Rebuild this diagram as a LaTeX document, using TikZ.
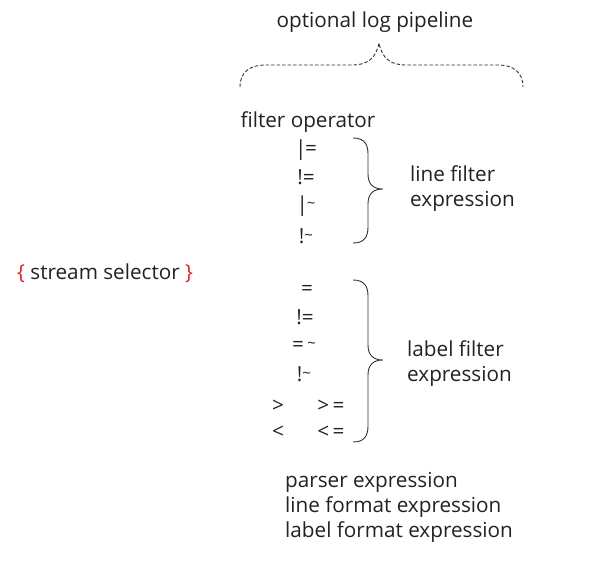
\documentclass[tikz,border=0pt]{standalone}
\usepackage{fontspec}
\setmainfont{Open Sans}
\definecolor{txt}{HTML}{222222}
\definecolor{brc}{HTML}{333333}
\definecolor{redb}{HTML}{E0262A}
\newcommand{\tld}{\raisebox{3pt}{\fontsize{15}{18}\selectfont\textasciitilde}}
\begin{document}
\begin{tikzpicture}[x=1pt,y=-1pt,
  lbl/.style={inner sep=0pt, text=txt, font=\fontsize{20.7}{25}\selectfont},
  brace/.style={draw=brc, line width=0.9pt},
  dbrace/.style={draw=brc, line width=0.9pt, dash pattern=on 3.5pt off 2pt}]
\useasboundingbox (0,0) rectangle (591,560);
% top
\node[lbl] (opt) at (375,22) {optional log pipeline};
\path[dbrace] (240,87) .. controls (240,72) and (250,65) .. (265,65) -- (352,65)
  .. controls (368,65) and (376,58) .. (379,43)
  .. controls (382,58) and (390,65) .. (406,65) -- (498,65)
  .. controls (513,65) and (523,72) .. (523,87);
% filter operator
\node[lbl] (fop) at (308,122) {filter operator};
\node[lbl] (o1) at (306,150) {|\kern-1.5pt=};
\node[lbl] (o2) at (306,177) {!=};
\node[lbl] (o3) at (306,206) {|\kern-1pt\tld};
\node[lbl] (o4) at (306,236) {!\tld};
\path[brace] (353,138) .. controls (364,138) and (368,144) .. (368,154) -- (368,174)
  .. controls (368,184) and (373,189) .. (383,189)
  .. controls (373,189) and (368,194) .. (368,204) -- (368,227)
  .. controls (368,237) and (364,243) .. (353,243);
\node[lbl, align=left, anchor=west] (lfe) at (410,189) {line filter\\expression};
% stream selector
\node[lbl, anchor=west] (ss) at (17,273) {\textcolor{redb}{\{} stream selector \textcolor{redb}{\}}};
% label filter ops
\node[lbl] (l1) at (307,290) {=};
\node[lbl] (l2) at (305,317) {!=};
\node[lbl] (l3) at (304,346) {=\,\tld};
\node[lbl] (l4) at (304,374) {!\tld};
\node[lbl] (l5) at (278,406) {>};
\node[lbl] (l6) at (331,406) {>\,=};
\node[lbl] (l7) at (278,432) {<};
\node[lbl] (l8) at (331,432) {<\,=};
\path[brace] (353,280) .. controls (364,280) and (368,286) .. (368,296) -- (368,345)
  .. controls (368,355) and (373,360) .. (383,360)
  .. controls (373,360) and (368,365) .. (368,375) -- (368,426)
  .. controls (368,436) and (364,442) .. (353,442);
\node[lbl, align=left, anchor=west] (lbe) at (407,364) {label filter\\expression};
% bottom
\node[lbl, align=left, anchor=west] (bot) at (285,507) {parser expression\\line format expression\\label format expression};
\end{tikzpicture}
\end{document}
